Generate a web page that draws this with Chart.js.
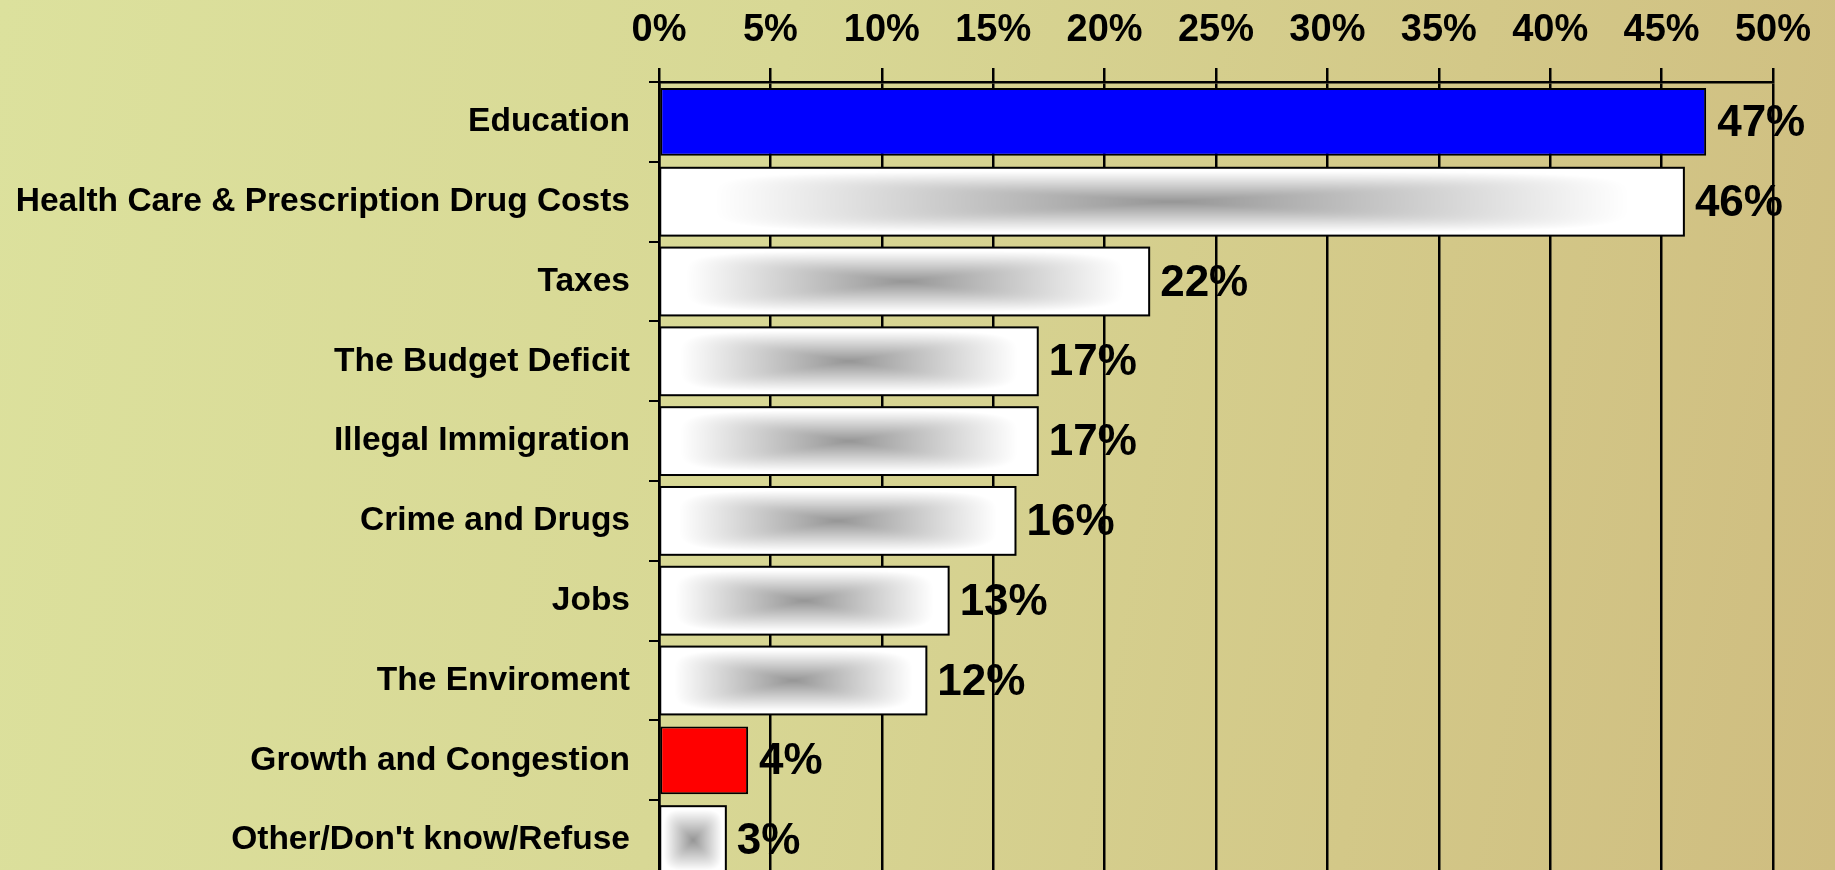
<!DOCTYPE html>
<html>
<head>
<meta charset="utf-8">
<script src="https://cdn.jsdelivr.net/npm/chart.js@4"></script>
<style>
  html, body { margin: 0; padding: 0; overflow: hidden; }
  body {
    width: 1835px; height: 870px;
    background: linear-gradient(100deg, #dce19d 0%, #d8d895 40%, #d3c888 75%, #cfbd80 100%);
  }
  #grp { position: absolute; left: 0; top: 0; }
</style>
</head>
<body>
<canvas id="grp" width="1835" height="880"></canvas>
<script>
const labels = [
  "Education",
  "Health Care & Prescription Drug Costs",
  "Taxes",
  "The Budget Deficit",
  "Illegal Immigration",
  "Crime and Drugs",
  "Jobs",
  "The Enviroment",
  "Growth and Congestion",
  "Other/Don't know/Refuse"
]
const values = [47, 46, 22, 17, 17, 16, 13, 12, 4, 3]
const fills = ["#0000ff", "shade", "shade", "shade", "shade", "shade", "shade", "shade", "#ff0000", "shade"]
const xTicks = [0, 5, 10, 15, 20, 25, 30, 35, 40, 45, 50]

const FONT = "'Liberation Sans', Arial, sans-serif"

// rectangle-from-centre shading: dark grey in the middle, white towards every edge
function shadeImage(w, h) {
  const c = document.createElement("canvas")
  c.width = w; c.height = h
  const g = c.getContext("2d")
  const img = g.createImageData(w, h)
  const hw = w / 2, hh = h / 2
  for (let y = 0; y < h; y++) {
    const b = Math.abs(y + 0.5 - hh) / hh
    for (let x = 0; x < w; x++) {
      const a = Math.abs(x + 0.5 - hw) / hw
      let s = Math.pow(Math.pow(a, 5) + Math.pow(b, 5), 1 / 5)
      s = Math.min(1, s * 1.12)
      const v = Math.round(150 + (255 - 150) * s)
      const k = (y * w + x) * 4
      img.data[k] = v; img.data[k + 1] = v; img.data[k + 2] = v; img.data[k + 3] = 255
    }
  }
  g.putImageData(img, 0, 0)
  return c
}

const barDecor = {
  id: "barDecor",
  afterDatasetsDraw(chart) {
    const ctx = chart.ctx
    const meta = chart.getDatasetMeta(0)
    ctx.save()
    meta.data.forEach((bar, i) => {
      const p = bar.getProps(["x", "y", "base", "height"], true)
      const l = p.base, r = p.x, t = p.y - p.height / 2, b = p.y + p.height / 2
      if (fills[i] === "shade") {
        const w = Math.max(1, Math.round(r - l)), h = Math.max(1, Math.round(b - t))
        ctx.drawImage(shadeImage(w, h), l, t, r - l, b - t)
        ctx.lineWidth = 2
        ctx.strokeStyle = "#000"
        ctx.strokeRect(l, t, r - l, b - t)
      }
      ctx.fillStyle = "#000"
      ctx.font = "bold 44px " + FONT
      ctx.textAlign = "left"
      ctx.textBaseline = "middle"
      ctx.fillText(values[i] + "%", r + 11, p.y + 2)
    })
    ctx.restore()
  }
}

const ctx = document.getElementById("grp").getContext("2d")

const data = {
  labels,
  datasets: [{
    data: values,
    backgroundColor: fills.map(c => c === "shade" ? "#ffffff" : c),
    borderColor: "#000",
    borderWidth: 2,
    borderSkipped: false,
    categoryPercentage: 1,
    barPercentage: 0.85
  }]
}

const config = {
  type: "bar",
  data,
  plugins: [barDecor],
  options: {
    indexAxis: "y",
    responsive: false,
    animation: false,
    layout: { padding: { left: 0, right: 62, top: 0, bottom: 0 } },
    plugins: { legend: { display: false }, tooltip: { enabled: false } },
    scales: {
      x: {
        position: "top",
        min: 0,
        max: 50,
        afterBuildTicks: s => { s.ticks = xTicks.map(v => ({ value: v })) },
        afterFit: s => { s.height = 82; s.paddingLeft = 0; s.paddingRight = 0 },
        grid: { color: "#000", lineWidth: 2.5, tickLength: 14, drawTicks: true },
        border: { color: "#000", width: 2.5 },
        ticks: {
          color: "#000",
          padding: 15,
          maxRotation: 0,
          font: { family: FONT, size: 38, weight: "bold" },
          callback: v => v + "%"
        }
      },
      y: {
        afterFit: s => { s.width = 659; s.paddingTop = 0; s.paddingBottom = 0 },
        grid: { drawOnChartArea: false, color: "#000", lineWidth: 2, tickLength: 10 },
        border: { color: "#000", width: 2.5 },
        ticks: {
          color: "#000",
          padding: 19,
          font: { family: FONT, size: 33.5, weight: "bold" }
        }
      }
    }
  }
}

const grpM = new Chart(ctx, config)
</script>
</body>
</html>
